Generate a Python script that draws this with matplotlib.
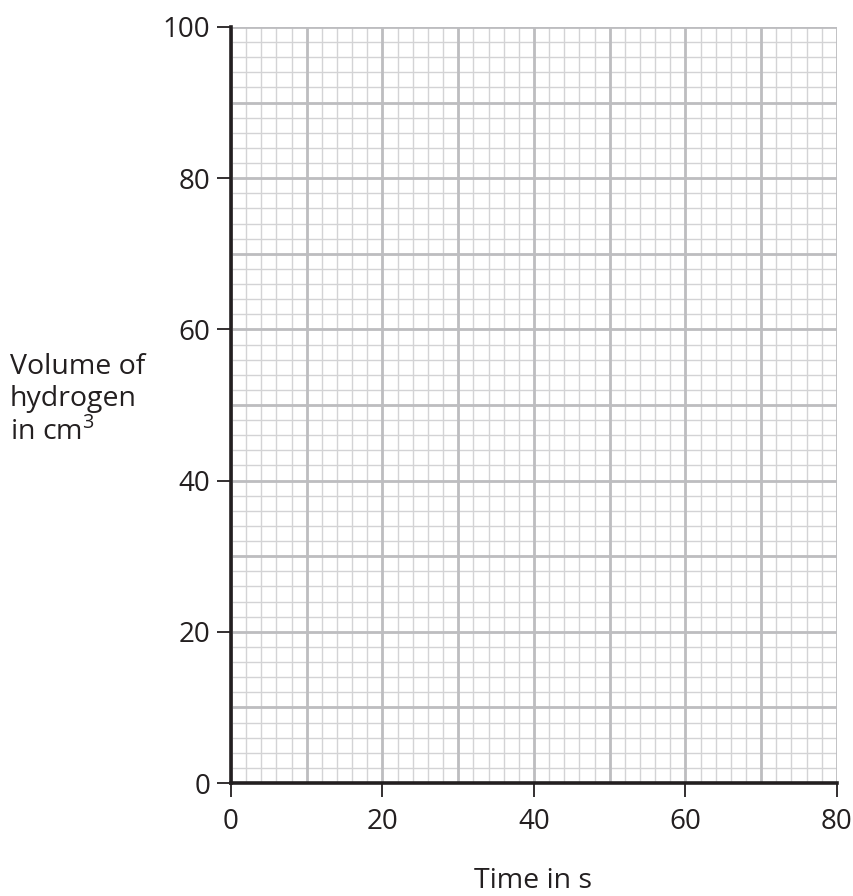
import matplotlib
matplotlib.use('Agg')
import matplotlib.pyplot as plt
import numpy as np

# axis ranges and tick labels
x_ticks = [0, 20, 40, 60, 80]
y_ticks = [0, 20, 40, 60, 80, 100]
x_major_grid = [0, 10, 20, 30, 40, 50, 60, 70, 80]
y_major_grid = [0, 10, 20, 30, 40, 50, 60, 70, 80, 90, 100]
minor_step = 2

x_label = 'Time in s'
y_label = 'Volume of\nhydrogen\nin cm$^3$'

plt.rcParams['font.family'] = ['Open Sans', 'DejaVu Sans']
plt.rcParams['mathtext.fontset'] = 'custom'
plt.rcParams['mathtext.rm'] = 'Open Sans'

fig = plt.figure(figsize=(8.54, 8.96), dpi=100)
ax = fig.add_axes([0.2705, 0.1261, 0.7095, 0.8438])

ax.set_xlim(x_ticks[0], x_ticks[-1])
ax.set_ylim(y_ticks[0], y_ticks[-1])

# minor grid
for xv in np.arange(x_ticks[0], x_ticks[-1] + 0.1, minor_step):
    ax.axvline(xv, color='#d3d3d5', lw=1.0, zorder=1)
for yv in np.arange(y_ticks[0], y_ticks[-1] + 0.1, minor_step):
    ax.axhline(yv, color='#d3d3d5', lw=1.0, zorder=1)
# major grid
for xv in x_major_grid:
    ax.axvline(xv, color='#bdbdc0', lw=2.0, zorder=2)
for yv in y_major_grid:
    ax.axhline(yv, color='#bdbdc0', lw=2.0, zorder=2)

for s in ['top', 'right']:
    ax.spines[s].set_visible(False)
for s in ['left', 'bottom']:
    ax.spines[s].set_linewidth(2.6)
    ax.spines[s].set_color('#231f20')
    ax.spines[s].set_zorder(5)

ax.set_xticks(x_ticks)
ax.set_yticks(y_ticks)
ax.tick_params(direction='out', length=10, width=1.3, color='#231f20',
               labelsize=20, labelcolor='#231f20')
ax.tick_params(axis='x', pad=8)
ax.tick_params(axis='y', pad=5)

fig.text(533 / 854, 1 - 881 / 896, x_label, ha='center', va='center',
         fontsize=20.5, color='#231f20')
fig.text(10 / 854, 1 - 400 / 896, y_label, ha='left', va='center',
         fontsize=20.5, color='#231f20', linespacing=1.2)

fig.savefig('out.png', dpi=100)
